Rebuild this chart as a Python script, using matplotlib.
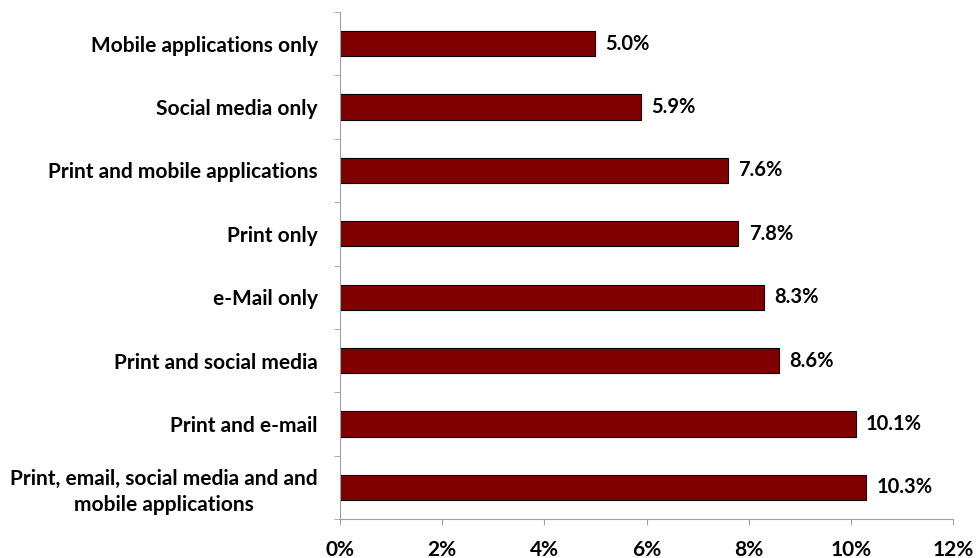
import numpy as np
import matplotlib.pyplot as plt
from matplotlib.ticker import FixedLocator, PercentFormatter

plt.rcParams['font.family'] = ['Lato', 'DejaVu Sans']
plt.rcParams['font.weight'] = 'bold'

categories = [
    'Mobile applications only',
    'Social media only',
    'Print and mobile applications',
    'Print only',
    'e-Mail only',
    'Print and social media',
    'Print and e-mail',
    'Print, email, social media and and\nmobile applications',
]
values = [5.0, 5.9, 7.6, 7.8, 8.3, 8.6, 10.1, 10.3]

fig = plt.figure(figsize=(9.79, 5.58), dpi=100)
ax = fig.add_axes([340 / 979, 39 / 558, 613 / 979, 507 / 558])

y = np.arange(len(categories))
ax.barh(y, values, height=0.40, color='#800000', edgecolor='black', linewidth=0.8)

for yi, v in zip(y, values):
    ax.text(v + 0.2, yi, f'{v:.1f}%', va='center', ha='left',
            fontsize=14.5, fontweight='bold')

ax.set_ylim(len(categories) - 0.5, -0.5)
ax.set_xlim(0, 12)
ax.set_xticks(np.arange(0, 13, 2))
ax.xaxis.set_major_formatter(PercentFormatter(decimals=0))

ax.set_yticks(y)
ax.set_yticklabels(categories)
for lbl in ax.get_yticklabels():
    lbl.set_multialignment('center')
    lbl.set_linespacing(1.35)
ax.yaxis.set_minor_locator(FixedLocator(np.arange(-0.5, len(categories), 1)))
ax.tick_params(axis='y', which='major', length=0, pad=16, labelsize=15)
ax.tick_params(axis='y', which='minor', length=4, color='#a0a0a0')
ax.tick_params(axis='x', length=4, color='#a0a0a0', pad=11, labelsize=15)

for side in ['top', 'right']:
    ax.spines[side].set_visible(False)
for side in ['left', 'bottom']:
    ax.spines[side].set_color('#a0a0a0')

fig.savefig('out.png', dpi=100)
